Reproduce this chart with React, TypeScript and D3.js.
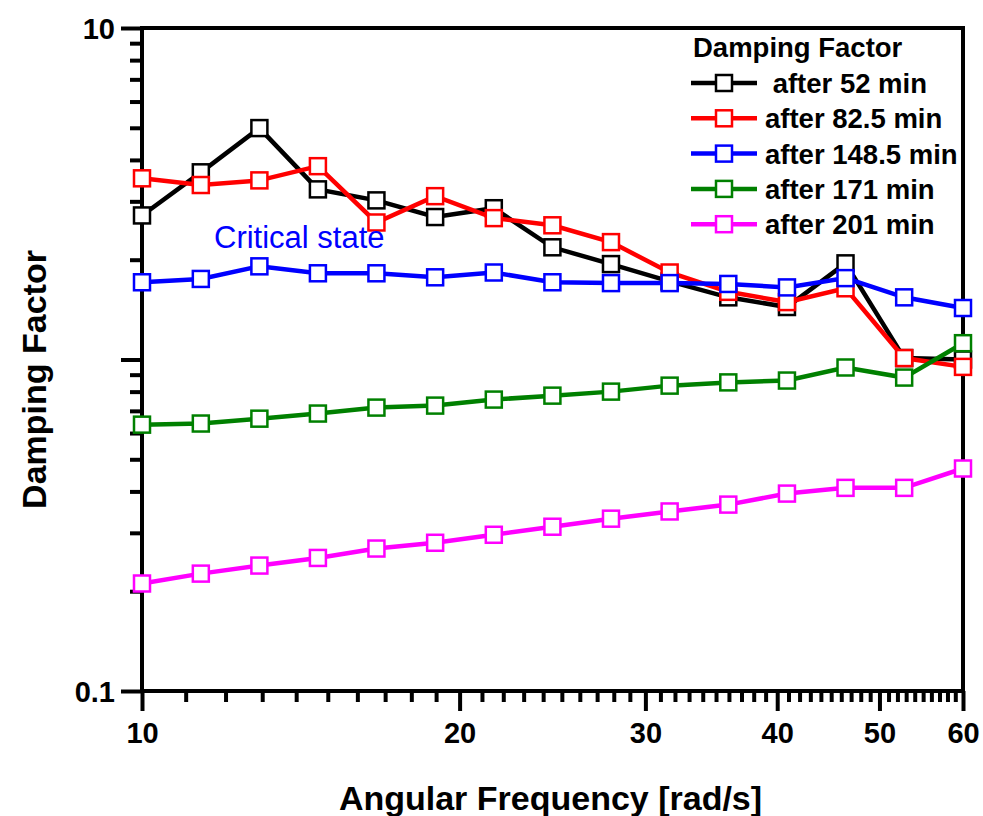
import { useEffect, useRef } from 'react';
import * as d3 from 'd3';

const freq = [10, 11.37, 12.92, 14.68, 16.68, 18.96, 21.55, 24.49, 27.83, 31.63, 35.95, 40.86, 46.43, 52.77, 60];

const after52 = [2.72, 3.67, 4.99, 3.26, 3.02, 2.69, 2.86, 2.18, 1.94, 1.72, 1.54, 1.44, 1.95, 1.01, 1.0];
const after82 = [3.52, 3.36, 3.47, 3.83, 2.59, 3.11, 2.67, 2.54, 2.26, 1.83, 1.6, 1.49, 1.64, 1.01, 0.95];
const after148 = [1.71, 1.75, 1.91, 1.82, 1.82, 1.77, 1.83, 1.71, 1.7, 1.7, 1.69, 1.65, 1.76, 1.54, 1.43];
const after171 = [0.636, 0.641, 0.663, 0.687, 0.716, 0.726, 0.757, 0.778, 0.8, 0.834, 0.853, 0.864, 0.946, 0.882, 1.12];
const after201 = [0.211, 0.226, 0.239, 0.252, 0.269, 0.28, 0.296, 0.313, 0.331, 0.348, 0.365, 0.394, 0.41, 0.41, 0.469];

const seriesNames = [' after 52 min', 'after 82.5 min', 'after 148.5 min', 'after 171 min', 'after 201 min'];
const seriesValues = [after52, after82, after148, after171, after201];
const seriesColors = ['#000000', '#ff0000', '#0000ff', '#008000', '#ff00ff'];

const xTickLabels = [10, 20, 30, 40, 50, 60];
const yTickLabels = [0.1, 10];

const font = '"Liberation Sans", Arial, sans-serif';

function App() {
  const ref = useRef<SVGSVGElement>(null);

  useEffect(() => {
    document.body.style.margin = '0';
    const svg = d3.select(ref.current);
    svg.selectAll('*').remove();

    const left = 142, right = 963, top = 28, bottom = 691;

    const x = d3.scaleLog().domain([10, 60]).range([left, right]);
    const y = d3.scaleLog().domain([0.1, 10]).range([bottom, top]);

    // minor + major ticks x
    const xMinor = d3.range(11, 60).filter(v => !xTickLabels.includes(v));
    const xAxisMinor = d3.axisBottom(x).tickValues(xMinor).tickSize(11).tickFormat(() => '');
    const xAxisMajor = d3.axisBottom(x).tickValues(xTickLabels).tickSize(20).tickPadding(10).tickFormat(d3.format('d'));

    const yMinor: number[] = [];
    [0.1, 1].forEach(dec => d3.range(2, 10).forEach(m => yMinor.push(+(dec * m).toFixed(3))));
    const yAxisMinor = d3.axisLeft(y).tickValues(yMinor).tickSize(12).tickFormat(() => '');
    const yAxisMajor = d3.axisLeft(y).tickValues([0.1, 1, 10]).tickSize(21).tickPadding(6)
      .tickFormat(d => (yTickLabels.includes(+d) ? String(d) : ''));

    const gx1 = svg.append('g').attr('transform', `translate(0,${bottom})`).call(xAxisMinor);
    const gx2 = svg.append('g').attr('transform', `translate(0,${bottom})`).call(xAxisMajor);
    const gy1 = svg.append('g').attr('transform', `translate(${left},0)`).call(yAxisMinor);
    const gy2 = svg.append('g').attr('transform', `translate(${left},0)`).call(yAxisMajor);

    [gx1, gx2, gy1, gy2].forEach(g => {
      g.select('.domain').remove();
      g.selectAll('line').attr('stroke', '#000').attr('stroke-width', 4);
      g.selectAll('text').attr('font-family', font).attr('font-weight', 'bold').attr('font-size', 29).attr('fill', '#000');
    });
    gx2.selectAll('text').attr('dy', '0.75em');
    gy2.selectAll('text').attr('dy', '0.35em');

    svg.append('rect')
      .attr('x', left).attr('y', top)
      .attr('width', right - left).attr('height', bottom - top)
      .attr('fill', 'none').attr('stroke', '#000').attr('stroke-width', 4);

    const line = d3.line<number>()
      .x((_, i) => x(freq[i]))
      .y(d => y(d));

    seriesValues.forEach((vals, s) => {
      const g = svg.append('g');
      g.append('path')
        .attr('d', line(vals))
        .attr('fill', 'none')
        .attr('stroke', seriesColors[s])
        .attr('stroke-width', 4.5);
      g.selectAll('rect')
        .data(vals)
        .enter()
        .append('rect')
        .attr('x', (_, i) => x(freq[i]) - 8)
        .attr('y', d => y(d) - 8)
        .attr('width', 16)
        .attr('height', 16)
        .attr('fill', '#fff')
        .attr('stroke', seriesColors[s])
        .attr('stroke-width', 2.5);
    });

    // legend
    const lg = svg.append('g');
    lg.append('text')
      .attr('x', 693).attr('y', 57)
      .attr('font-family', font).attr('font-weight', 'bold').attr('font-size', 27.5)
      .text('Damping Factor');
    seriesNames.forEach((name, i) => {
      const cy = 83 + i * 35.3;
      lg.append('line')
        .attr('x1', 691).attr('x2', 757).attr('y1', cy).attr('y2', cy)
        .attr('stroke', seriesColors[i]).attr('stroke-width', 4.5);
      lg.append('rect')
        .attr('x', 716).attr('y', cy - 8).attr('width', 16).attr('height', 16)
        .attr('fill', '#fff').attr('stroke', seriesColors[i]).attr('stroke-width', 2.5);
      lg.append('text')
        .attr('x', 765).attr('y', cy + 10)
        .attr('font-family', font).attr('font-weight', 'bold').attr('font-size', 27.5)
        .attr('xml:space', 'preserve')
        .style('white-space', 'pre')
        .text(name);
    });

    svg.append('text')
      .attr('x', 214).attr('y', 248)
      .attr('font-family', font).attr('font-size', 31).attr('fill', '#0000ff')
      .text('Critical state');

    svg.append('text')
      .attr('x', (left + right) / 2 - 2).attr('y', 810)
      .attr('text-anchor', 'middle')
      .attr('font-family', font).attr('font-weight', 'bold').attr('font-size', 34)
      .text('Angular Frequency [rad/s]');

    svg.append('text')
      .attr('transform', `translate(46,${(top + bottom) / 2 + 20}) rotate(-90)`)
      .attr('text-anchor', 'middle')
      .attr('font-family', font).attr('font-weight', 'bold').attr('font-size', 34)
      .text('Damping Factor');
  }, []);

  return (
    <div>
      <svg ref={ref} width={983} height={816} style={{ display: 'block', background: '#fff' }}></svg>
    </div>
  );
}

export default App;
